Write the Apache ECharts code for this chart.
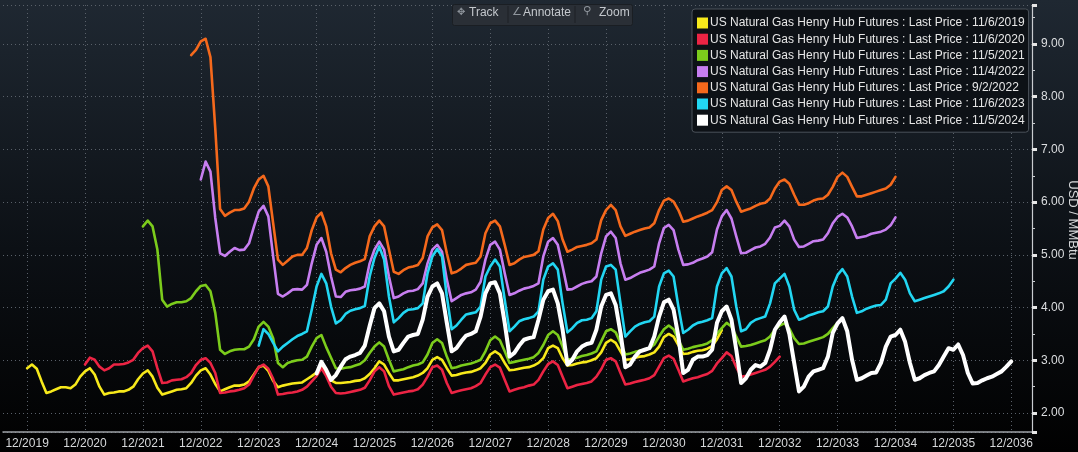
<!DOCTYPE html>
<html>
<head>
<meta charset="utf-8">
<script src="https://cdn.jsdelivr.net/npm/echarts@6/dist/echarts.min.js"></script>
<style>
html,body{margin:0;padding:0;background:#000;}
#chart{width:1078px;height:452px;}
</style>
</head>
<body>
<div id="chart"></div>
<script>
// x tick labels (month index 0 = 12/2019, one tick every 12 months)
const tickLabels = ['12/2019','12/2020','12/2021','12/2022','12/2023','12/2024','12/2025','12/2026','12/2027','12/2028','12/2029','12/2030','12/2031','12/2032','12/2033','12/2034','12/2035','12/2036'];
const yAxisTitle = 'USD / MMBtu';

const seriesNames = [
  'US Natural Gas Henry Hub Futures : Last Price : 11/6/2019',
  'US Natural Gas Henry Hub Futures : Last Price : 11/6/2020',
  'US Natural Gas Henry Hub Futures : Last Price : 11/5/2021',
  'US Natural Gas Henry Hub Futures : Last Price : 11/4/2022',
  'US Natural Gas Henry Hub Futures : Last Price : 9/2/2022',
  'US Natural Gas Henry Hub Futures : Last Price : 11/6/2023',
  'US Natural Gas Henry Hub Futures : Last Price : 11/5/2024'
];
// first contract month of each strip, in months after 12/2019
const seriesStarts = [0, 12, 24, 36, 34, 48, 60];
const seriesColors = ['#f7e91b','#ec2444','#7ccc1c','#c77ef0','#f5691c','#22d6f2','#ffffff'];

const curve20191106 = [
2.85,2.92,2.84,2.60,2.38,2.41,2.45,2.49,2.49,2.47,2.54,2.69,
2.79,2.85,2.73,2.50,2.35,2.38,2.39,2.41,2.41,2.44,2.50,2.64,
2.75,2.81,2.69,2.48,2.35,2.38,2.41,2.44,2.45,2.47,2.57,2.71,
2.81,2.85,2.73,2.55,2.41,2.45,2.49,2.52,2.52,2.54,2.60,2.73,
2.87,2.90,2.80,2.61,2.49,2.52,2.54,2.56,2.57,2.58,2.64,2.70,
2.77,2.91,2.78,2.62,2.57,2.57,2.58,2.59,2.61,2.62,2.66,2.74,
2.85,2.98,2.92,2.76,2.62,2.62,2.64,2.66,2.68,2.71,2.76,2.85,
3.01,3.06,3.01,2.85,2.71,2.72,2.75,2.77,2.78,2.81,2.85,2.95,
3.11,3.17,3.11,2.95,2.81,2.82,2.84,2.86,2.87,2.90,2.95,3.04,
3.23,3.28,3.23,3.04,2.90,2.91,2.94,2.96,2.97,3.00,3.04,3.15,
3.33,3.39,3.33,3.17,3.01,3.02,3.05,3.07,3.08,3.11,3.15,3.26,
3.44,3.50,3.45,3.29,3.12,3.13,3.16,3.18,3.19,3.22,3.27,3.40,
3.57];

const curve20201106 = [
2.92,3.05,3.01,2.88,2.81,2.85,2.92,2.92,2.93,2.96,3.01,3.14,
3.23,3.28,3.17,2.85,2.57,2.58,2.62,2.63,2.64,2.68,2.76,2.91,
3.01,3.04,2.95,2.76,2.38,2.39,2.41,2.42,2.44,2.47,2.54,2.71,
2.87,2.92,2.84,2.65,2.35,2.36,2.38,2.39,2.41,2.44,2.50,2.60,
2.70,2.85,2.70,2.50,2.38,2.37,2.38,2.40,2.42,2.44,2.48,2.62,
2.79,2.87,2.79,2.51,2.35,2.37,2.39,2.41,2.42,2.45,2.54,2.69,
2.87,2.90,2.82,2.57,2.38,2.41,2.43,2.45,2.47,2.51,2.57,2.73,
2.87,2.92,2.86,2.63,2.41,2.44,2.47,2.49,2.52,2.54,2.63,2.79,
2.93,2.98,2.91,2.69,2.47,2.50,2.53,2.55,2.57,2.60,2.69,2.83,
3.01,3.04,2.98,2.76,2.54,2.56,2.59,2.61,2.63,2.66,2.72,2.88,
3.04,3.09,3.03,2.82,2.60,2.63,2.66,2.68,2.71,2.74,2.80,2.94,
3.04,3.15,3.08,2.87,2.69,2.70,2.73,2.76,2.79,2.82,2.88,2.97,
3.07];

const curve20211105 = [
5.54,5.65,5.54,5.10,4.15,4.02,4.07,4.10,4.10,4.12,4.18,4.31,
4.41,4.43,4.31,3.90,3.20,3.12,3.17,3.20,3.21,3.21,3.26,3.40,
3.64,3.73,3.64,3.42,2.95,2.87,2.95,2.98,3.00,3.01,3.07,3.26,
3.42,3.48,3.25,3.05,2.85,2.84,2.86,2.87,2.90,2.93,3.00,3.14,
3.26,3.34,3.26,3.01,2.79,2.81,2.83,2.87,2.90,2.92,2.96,3.11,
3.33,3.40,3.33,3.07,2.85,2.87,2.90,2.92,2.94,2.97,3.01,3.17,
3.38,3.45,3.38,3.17,2.95,2.97,2.99,3.01,3.03,3.06,3.14,3.29,
3.48,3.55,3.48,3.26,3.01,3.03,3.05,3.08,3.10,3.13,3.17,3.36,
3.55,3.59,3.53,3.33,3.11,3.13,3.16,3.18,3.20,3.23,3.30,3.45,
3.59,3.66,3.59,3.39,3.20,3.22,3.25,3.27,3.29,3.32,3.38,3.50,
3.61,3.71,3.64,3.45,3.26,3.27,3.29,3.32,3.35,3.38,3.45,3.58,
3.66,3.70,3.60,3.42,3.31,3.32,3.35,3.38,3.41,3.44,3.50,3.61,
3.71];

const curve20221104 = [
6.43,6.77,6.58,5.70,5.03,4.98,5.06,5.13,5.09,5.10,5.22,5.53,
5.82,5.93,5.73,4.97,4.26,4.21,4.27,4.34,4.35,4.34,4.43,4.84,
5.19,5.32,5.06,4.59,4.21,4.20,4.30,4.33,4.34,4.36,4.40,4.84,
5.10,5.25,5.10,4.59,4.18,4.21,4.27,4.31,4.32,4.35,4.46,4.84,
5.10,5.19,5.06,4.53,4.12,4.18,4.24,4.27,4.29,4.34,4.49,4.91,
5.19,5.25,5.10,4.65,4.24,4.27,4.32,4.36,4.38,4.41,4.46,4.97,
5.25,5.32,5.19,4.78,4.34,4.35,4.40,4.45,4.48,4.50,4.59,5.03,
5.35,5.44,5.32,4.84,4.53,4.56,4.61,4.66,4.69,4.72,4.78,5.22,
5.51,5.57,5.47,5.10,4.81,4.82,4.85,4.90,4.93,4.97,5.05,5.48,
5.73,5.85,5.69,5.35,5.03,5.04,5.09,5.14,5.16,5.21,5.33,5.52,
5.55,5.65,5.54,5.29,5.15,5.16,5.21,5.26,5.27,5.29,5.41,5.60,
5.72,5.78,5.71,5.54,5.32,5.34,5.36,5.40,5.42,5.44,5.48,5.56,
5.71];

const curve20220902 = [
8.79,8.89,
9.05,9.10,8.75,7.40,5.87,5.74,5.80,5.85,5.85,5.88,6.01,6.26,
6.43,6.50,6.30,5.60,4.91,4.81,4.89,4.97,5.00,5.00,5.13,5.47,
5.71,5.80,5.54,5.03,4.72,4.67,4.75,4.81,4.85,4.88,4.92,5.35,
5.54,5.65,5.54,5.10,4.68,4.64,4.71,4.76,4.78,4.81,4.94,5.35,
5.52,5.58,5.47,5.03,4.65,4.68,4.74,4.81,4.83,4.85,4.97,5.41,
5.60,5.65,5.54,5.19,4.81,4.84,4.91,4.96,4.98,5.00,5.07,5.48,
5.70,5.78,5.64,5.29,5.06,5.10,5.15,5.17,5.19,5.22,5.29,5.66,
5.85,5.95,5.85,5.54,5.36,5.40,5.44,5.47,5.50,5.52,5.60,5.85,
6.03,6.07,6.01,5.85,5.63,5.65,5.69,5.73,5.76,5.80,5.85,6.00,
6.23,6.30,6.23,6.01,5.82,5.85,5.88,5.93,5.97,5.99,6.07,6.26,
6.39,6.43,6.35,6.14,5.95,5.95,5.98,6.03,6.06,6.07,6.14,6.29,
6.48,6.56,6.48,6.29,6.11,6.11,6.14,6.17,6.20,6.23,6.26,6.33,
6.48];

const curve20231106 = [
3.28,3.59,3.50,3.33,3.17,3.26,3.33,3.40,3.46,3.50,3.55,3.96,
4.40,4.64,4.46,4.02,3.70,3.76,3.88,3.94,3.97,3.99,4.03,4.59,
4.94,5.16,4.91,4.21,3.72,3.80,3.90,3.96,3.97,3.99,4.08,4.65,
4.97,5.11,4.97,4.21,3.59,3.66,3.77,3.87,3.89,3.91,4.02,4.59,
4.78,4.91,4.78,4.15,3.55,3.64,3.74,3.78,3.80,3.83,3.93,4.53,
4.78,4.84,4.72,4.08,3.53,3.61,3.71,3.76,3.77,3.80,3.93,4.53,
4.78,4.81,4.72,4.08,3.45,3.55,3.64,3.69,3.72,3.74,3.83,4.40,
4.65,4.70,4.59,4.02,3.52,3.58,3.66,3.71,3.73,3.76,3.80,4.40,
4.65,4.75,4.59,4.02,3.55,3.59,3.71,3.77,3.80,3.83,4.08,4.46,
4.55,4.64,4.40,3.96,3.77,3.80,3.85,3.88,3.91,3.93,4.02,4.40,
4.62,4.73,4.59,4.21,3.90,3.93,3.98,4.01,4.04,4.05,4.15,4.46,
4.55,4.66,4.53,4.27,4.12,4.15,4.18,4.21,4.24,4.27,4.31,4.40,
4.53];

const curve20241105 = [
2.75,2.97,2.82,2.63,2.72,2.88,3.02,3.07,3.10,3.14,3.28,3.65,
3.99,4.08,3.93,3.45,3.17,3.20,3.33,3.45,3.48,3.50,3.77,4.21,
4.40,4.46,4.27,3.71,3.17,3.23,3.36,3.47,3.50,3.55,3.83,4.27,
4.46,4.48,4.27,3.71,3.07,3.14,3.28,3.39,3.42,3.44,3.77,4.15,
4.31,4.34,4.08,3.58,2.92,3.01,3.17,3.26,3.31,3.33,3.58,4.02,
4.24,4.27,4.05,3.52,2.87,2.92,3.07,3.17,3.20,3.23,3.45,3.83,
4.10,4.15,3.96,3.45,2.76,2.82,3.01,3.07,3.07,3.10,3.20,3.71,
3.93,4.02,3.77,3.20,2.57,2.66,2.82,2.91,2.88,2.95,3.20,3.58,
3.72,3.83,3.50,2.95,2.41,2.50,2.69,2.79,2.82,2.85,3.07,3.52,
3.70,3.80,3.55,3.01,2.63,2.66,2.71,2.76,2.77,2.95,3.26,3.45,
3.48,3.58,3.35,2.95,2.63,2.66,2.72,2.76,2.79,2.91,3.07,3.23,
3.20,3.30,3.10,2.76,2.56,2.57,2.62,2.66,2.69,2.74,2.79,2.88,
2.98];

const seriesValues = [curve20191106, curve20201106, curve20211105, curve20221104, curve20220902, curve20231106, curve20241105];

const chart = echarts.init(document.getElementById('chart'), null, {renderer: 'canvas'});

const FONT = "'Liberation Sans', Arial, sans-serif";
const dotted = {color: '#596069', width: 1, type: [1, 3]};

const series = seriesNames.map((name, i) => ({
  name: name,
  type: 'line',
  showSymbol: false,
  symbol: 'none',
  smooth: false,
  z: i === 6 ? 10 : 2 + i,
  lineStyle: {color: seriesColors[i], width: i === 6 ? 4 : 2.6, join: 'round', cap: 'round'},
  itemStyle: {color: seriesColors[i]},
  data: seriesValues[i].map((v, k) => [seriesStarts[i] + k, v])
}));

const tickValues = tickLabels.map((_, i) => i * 12);

chart.setOption({
  animation: false,
  backgroundColor: {
    type: 'linear', x: 0, y: 0, x2: 0, y2: 1,
    colorStops: [
      {offset: 0, color: '#1f2832'},
      {offset: 0.55, color: '#0c1015'},
      {offset: 1, color: '#010101'}
    ]
  },
  grid: {left: 3, right: 46, top: 5, bottom: 20, containLabel: false, outerBoundsMode: 'none'},
  legend: {
    orient: 'vertical',
    left: 692, top: 9,
    padding: [8, 4, 6, 5],
    itemGap: 4.2,
    itemWidth: 11, itemHeight: 11,
    icon: 'rect',
    backgroundColor: '#0d1116',
    borderColor: '#4b525a',
    borderWidth: 1,
    borderRadius: 3,
    selectedMode: false,
    textStyle: {color: '#e6e6e6', fontSize: 12, fontFamily: FONT, padding: [0, 0, 0, -3]},
    data: seriesNames
  },
  graphic: [
    {type: 'rect', left: 452, top: 4, shape: {width: 180, height: 21, r: 2},
     style: {fill: '#2a2f36', stroke: '#1a1e23'}, z: 50},
    {type: 'line', shape: {x1: 508, y1: 6, x2: 508, y2: 23}, style: {stroke: '#1c2025', lineWidth: 1}, z: 51},
    {type: 'line', shape: {x1: 575, y1: 6, x2: 575, y2: 23}, style: {stroke: '#1c2025', lineWidth: 1}, z: 51},
    {type: 'text', left: 457, top: 7, style: {text: '\u2725', fill: '#8f959c', font: "10px 'DejaVu Sans'"}, z: 52},
    {type: 'text', left: 469, top: 7, style: {text: 'Track', fill: '#c3c7cc', font: '12px ' + FONT}, z: 52},
    {type: 'text', left: 512, top: 7, style: {text: '\u2220', fill: '#8f959c', font: "11px 'DejaVu Sans'"}, z: 52},
    {type: 'text', left: 523, top: 7, style: {text: 'Annotate', fill: '#c3c7cc', font: '12px ' + FONT}, z: 52},
    {type: 'text', left: 583, top: 6, style: {text: '\u26B2', fill: '#8f959c', font: "11px 'DejaVu Sans'"}, z: 52},
    {type: 'text', left: 599, top: 7, style: {text: 'Zoom', fill: '#c3c7cc', font: '12px ' + FONT}, z: 52},
    {type: 'text', x: 1073, y: 220, rotation: -Math.PI / 2, z: 52,
     style: {text: yAxisTitle, fill: '#d6d8da', font: '13px ' + FONT, align: 'center', verticalAlign: 'middle'}}
  ],
  xAxis: {
    type: 'value',
    min: -5, max: 208.3,
    axisLine: {show: true, onZero: false, lineStyle: {color: '#9ea3a8', width: 1.5}},
    axisTick: {show: false, customValues: tickValues},
    splitLine: {show: true, lineStyle: dotted},
    axisLabel: {
      customValues: tickValues,
      color: '#d6d8da', fontSize: 12, fontFamily: FONT, margin: 6,
      formatter: v => tickLabels[Math.round(v / 12)]
    }
  },
  yAxis: {
    type: 'value', position: 'right',
    min: 1.64, max: 9.74, splitNumber: 8,
    axisLine: {show: true, onZero: false, lineStyle: {color: '#c9ccd0', width: 1.2}},
    axisTick: {show: true, length: 5, inside: false, lineStyle: {color: '#e6e6e6', width: 3}},
    minorTick: {show: true, splitNumber: 2, length: 3, lineStyle: {color: '#c9ccd0', width: 1}},
    splitLine: {show: true, lineStyle: dotted},
    axisLabel: {color: '#dcdee0', fontSize: 12, fontFamily: FONT, margin: 9,
      showMinLabel: false, showMaxLabel: false,
      formatter: v => v.toFixed(2)}
  },
  series: series
});
</script>
</body>
</html>
